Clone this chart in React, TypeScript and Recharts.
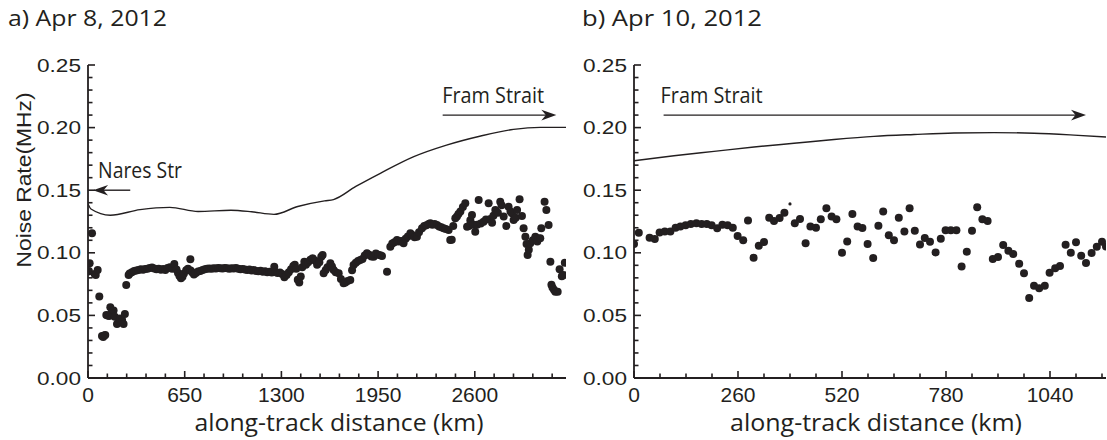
import {
  ComposedChart,
  Label,
  Line,
  ReferenceLine,
  Scatter,
  XAxis,
  YAxis,
} from "recharts";

const INK = "#231f20";
const HELV = "'Liberation Sans', Arial, Helvetica, sans-serif";
const MYRIAD = "'Open Sans', 'Noto Sans', sans-serif";

// Apr 8, 2012 — measured noise rate (km along track, MHz)
const apr8Dots: [number, number][] = [
  [2, 0.085], [6, 0.0855], [11, 0.0916], [27, 0.1156], [45, 0.083], [52, 0.0823],
  [65, 0.0863], [76, 0.065], [94, 0.0335], [102, 0.0328], [110, 0.034], [116, 0.0343],
  [123, 0.0503], [132, 0.05], [142, 0.0495], [150, 0.0565], [160, 0.0525], [172, 0.054],
  [180, 0.049], [195, 0.0431], [205, 0.0445], [215, 0.0475], [229, 0.0463], [239, 0.0431],
  [248, 0.0511], [257, 0.0743], [273, 0.0823],
  [280, 0.0835], [295, 0.0845], [310, 0.0855], [325, 0.0858], [340, 0.0862], [355, 0.0868],
  [370, 0.0865], [385, 0.087], [400, 0.0872], [415, 0.0878], [430, 0.0882], [445, 0.0875],
  [460, 0.0868], [475, 0.0872], [490, 0.0865], [505, 0.087], [520, 0.0862], [535, 0.0878],
  [550, 0.0884], [565, 0.0872], [580, 0.091], [595, 0.0866], [605, 0.0838], [615, 0.0815],
  [625, 0.0796], [635, 0.0808], [645, 0.0835], [660, 0.086], [672, 0.0872], [688, 0.0948],
  [690, 0.0858], [700, 0.0845], [712, 0.0826], [725, 0.0838], [740, 0.085], [755, 0.0855],
  [770, 0.0862], [785, 0.0868], [800, 0.0872], [815, 0.0875], [830, 0.0872], [845, 0.0876],
  [860, 0.0874], [875, 0.0878], [890, 0.0876], [905, 0.0874], [920, 0.0878], [935, 0.0876],
  [950, 0.0872], [965, 0.0876], [980, 0.0874], [995, 0.0878], [1010, 0.0872], [1025, 0.0868],
  [1040, 0.087], [1055, 0.0866], [1070, 0.0862], [1085, 0.0866], [1100, 0.0858], [1115, 0.0862],
  [1130, 0.0855], [1145, 0.0852], [1160, 0.0856], [1175, 0.0848], [1190, 0.0852], [1205, 0.0845],
  [1220, 0.0848], [1235, 0.0842], [1252, 0.0888], [1262, 0.0845], [1275, 0.0838], [1290, 0.0842],
  [1305, 0.083], [1320, 0.0805], [1335, 0.0822], [1350, 0.0845], [1365, 0.0868], [1380, 0.0895],
  [1390, 0.0905], [1400, 0.0872], [1410, 0.0785], [1420, 0.0762], [1430, 0.081], [1440, 0.0885],
  [1454, 0.0929], [1465, 0.0905], [1480, 0.0925], [1495, 0.0945], [1510, 0.0956], [1525, 0.0938],
  [1540, 0.0905], [1555, 0.0925], [1568, 0.0969], [1577, 0.0982],
  [1584, 0.0836], [1598, 0.0862], [1610, 0.0885], [1629, 0.0916], [1640, 0.089], [1651, 0.0863],
  [1665, 0.0845], [1685, 0.0836], [1700, 0.079], [1718, 0.0756], [1730, 0.0762], [1745, 0.0775],
  [1763, 0.0783], [1775, 0.086], [1785, 0.0903], [1800, 0.092], [1815, 0.0935], [1830, 0.0942],
  [1845, 0.095], [1860, 0.0978], [1875, 0.0996], [1890, 0.0985], [1905, 0.097], [1920, 0.0969],
  [1935, 0.0995], [1950, 0.0985], [1965, 0.098], [1976, 0.0974], [2010, 0.0849], [2032, 0.1049],
  [2045, 0.1075], [2060, 0.1085], [2077, 0.1102], [2090, 0.109], [2105, 0.1095], [2121, 0.1076],
  [2135, 0.1112], [2150, 0.113], [2167, 0.1156], [2180, 0.1142], [2195, 0.1125], [2211, 0.1129],
  [2225, 0.1165], [2245, 0.1196], [2260, 0.1215], [2275, 0.122], [2290, 0.123], [2301, 0.1236],
  [2315, 0.1225], [2330, 0.123], [2346, 0.1222], [2360, 0.121], [2375, 0.1205], [2390, 0.1196],
  [2405, 0.119], [2424, 0.1182], [2435, 0.1102], [2445, 0.1105], [2455, 0.1215], [2469, 0.1276],
  [2480, 0.129], [2490, 0.131], [2503, 0.1329], [2520, 0.1365], [2536, 0.1395], [2548, 0.1209],
  [2560, 0.1215], [2570, 0.126], [2581, 0.1302], [2590, 0.1225], [2603, 0.1169], [2615, 0.1225],
  [2626, 0.1422], [2640, 0.1235], [2659, 0.1249], [2675, 0.1265], [2693, 0.1395], [2705, 0.127],
  [2716, 0.1241], [2725, 0.1295], [2738, 0.1342], [2755, 0.132], [2771, 0.1408], [2780, 0.138],
  [2794, 0.1289], [2812, 0.1214], [2827, 0.1368], [2840, 0.133], [2850, 0.1315], [2861, 0.1262],
  [2875, 0.128], [2884, 0.1342], [2901, 0.1427], [2917, 0.1294], [2928, 0.1196], [2940, 0.1129],
  [2948, 0.107], [2955, 0.0982], [2963, 0.1025], [2973, 0.1076], [2990, 0.11], [3007, 0.1129],
  [3020, 0.109], [3030, 0.1115], [3040, 0.1116], [3047, 0.1196], [3069, 0.1408], [3081, 0.1342],
  [3096, 0.1222], [3108, 0.0929], [3115, 0.0745], [3122, 0.0722], [3132, 0.0705], [3141, 0.0689],
  [3157, 0.0689], [3170, 0.0868], [3185, 0.0812], [3197, 0.0823], [3205, 0.092],
];

// Apr 8, 2012 — smooth reference curve
const apr8Curve: [number, number][] = [
  [0, 0.139], [20, 0.135], [150, 0.13], [350, 0.1345], [550, 0.1363], [740, 0.133],
  [960, 0.134], [1100, 0.1328], [1250, 0.1307], [1410, 0.137], [1590, 0.1415], [1650, 0.1425],
  [1800, 0.153], [1965, 0.1635], [2190, 0.1768], [2410, 0.186], [2640, 0.1933], [2860, 0.1986],
  [3040, 0.2002], [3213, 0.2002],
];

// Apr 10, 2012 — measured noise rate
const apr10Dots: [number, number][] = [
  [0, 0.107], [12, 0.116], [39, 0.112], [52, 0.111], [64, 0.1163], [77, 0.117], [91, 0.117],
  [104, 0.12], [116, 0.121], [129, 0.122], [142, 0.123], [156, 0.1236], [169, 0.123], [182, 0.123],
  [194, 0.122], [208, 0.1196], [221, 0.1225], [234, 0.122], [247, 0.12], [259, 0.1134], [273, 0.11],
  [285, 0.1257], [299, 0.0961], [312, 0.1057], [325, 0.1086], [338, 0.128], [350, 0.1254],
  [364, 0.1278], [376, 0.132], [402, 0.1236], [415, 0.127], [429, 0.1076], [441, 0.121],
  [455, 0.12], [467, 0.1268], [481, 0.1355], [494, 0.129], [506, 0.1268], [520, 0.1], [533, 0.109],
  [546, 0.131], [559, 0.121], [571, 0.1198], [584, 0.107], [598, 0.0958], [611, 0.1217],
  [623, 0.1329], [637, 0.114], [650, 0.11], [662, 0.128], [676, 0.117], [689, 0.1355], [702, 0.1177],
  [715, 0.1067], [727, 0.1118], [740, 0.1089], [754, 0.1003], [767, 0.1113], [779, 0.118],
  [792, 0.118], [806, 0.118], [819, 0.0891], [832, 0.1009], [845, 0.1177], [858, 0.1363],
  [871, 0.1267], [884, 0.1254], [897, 0.095], [910, 0.0966], [923, 0.1062], [936, 0.1017],
  [948, 0.099], [963, 0.0913], [975, 0.0836], [988, 0.0639], [1000, 0.0737], [1013, 0.0716],
  [1027, 0.0737], [1039, 0.0841], [1053, 0.0876], [1065, 0.0895], [1079, 0.1065], [1092, 0.1],
  [1105, 0.1084], [1118, 0.0977], [1130, 0.0918], [1144, 0.0998], [1157, 0.1049], [1170, 0.1089],
  [1180, 0.105],
];
const apr10Stray: [number, number][] = [[390, 0.139]];

const apr10Curve: [number, number][] = [
  [0, 0.1735], [100, 0.1775], [200, 0.181], [300, 0.1845], [400, 0.1875], [500, 0.1905],
  [600, 0.193], [700, 0.1945], [800, 0.1957], [900, 0.196], [1000, 0.1955], [1100, 0.194],
  [1180, 0.1925],
];

const rateMajor = [0, 0.05, 0.1, 0.15, 0.2, 0.25];
const rateMinor = Array.from({ length: 26 }, (_, i) => i / 100);
const apr8KmMajor = [0, 650, 1300, 1950, 2600];
const apr8KmMinor = Array.from({ length: 25 }, (_, i) => i * 130);
const apr10KmMajor = [0, 260, 520, 780, 1040];
const apr10KmMinor = Array.from({ length: 19 }, (_, i) => i * 65);

const rows = (pts: [number, number][]) => pts.map(([km, rate]) => ({ km, rate }));

const isMajor = (majors: number[], v: number) => majors.some((m) => Math.abs(m - v) < 1e-9);

// tick marks point into the plot
const tickLine = { stroke: INK, strokeWidth: 1.6 };
const MAJOR_LEN = 7;
const MINOR_LEN = 4.5;

const bottomTick = (majors: number[]) => (p: any) => {
  const { x, y, payload } = p;
  const major = isMajor(majors, payload.value);
  return (
    <g>
      <line x1={x} x2={x} y1={y} y2={y - (major ? MAJOR_LEN : MINOR_LEN)} {...tickLine} />
      {major && (
        <text x={x} y={y + 24} textAnchor="middle" fontFamily={HELV} fontSize={21} fill={INK}>
          {payload.value}
        </text>
      )}
    </g>
  );
};

const topTick = (majors: number[]) => (p: any) => {
  const { x, y, payload } = p;
  const major = isMajor(majors, payload.value);
  return <line x1={x} x2={x} y1={y} y2={y + (major ? MAJOR_LEN : MINOR_LEN)} {...tickLine} />;
};

const leftTick = (p: any) => {
  const { x, y, payload } = p;
  const major = isMajor(rateMajor, payload.value);
  return (
    <g>
      <line x1={x} x2={x + (major ? MAJOR_LEN : MINOR_LEN)} y1={y} y2={y} {...tickLine} />
      {major && (
        <text
          x={x - 7}
          y={y}
          dy="0.36em"
          textAnchor="end"
          fontFamily={HELV}
          fontSize={18.6}
          textLength={44}
          lengthAdjust="spacingAndGlyphs"
          fill={INK}
        >
          {payload.value.toFixed(2)}
        </text>
      )}
    </g>
  );
};

const rightTick = (p: any) => {
  const { x, y, payload } = p;
  const major = isMajor(rateMajor, payload.value);
  return <line x1={x} x2={x - (major ? MAJOR_LEN : MINOR_LEN)} y1={y} y2={y} {...tickLine} />;
};

function Arrow(p: any) {
  const { x1, y1, x2, y2, text, textWidth, textX } = p;
  const dir = Math.sign(x2 - x1);
  const head = 15;
  return (
    <g>
      <line x1={x1} y1={y1} x2={x2 - dir * head * 0.6} y2={y2} stroke={INK} strokeWidth={1.4} />
      <polygon
        points={`${x2},${y2} ${x2 - dir * head},${y2 - 5.3} ${x2 - dir * head * 0.7},${y2} ${x2 - dir * head},${y2 + 5.3}`}
        fill={INK}
      />
      <text
        x={textX(x1, x2)}
        y={y1 - 12}
        fontFamily={MYRIAD}
        fontSize={21.5}
        textLength={textWidth}
        lengthAdjust="spacingAndGlyphs"
        fill={INK}
      >
        {text}
      </text>
    </g>
  );
}

const Dot = (p: any) => <circle cx={p.cx} cy={p.cy} r={4} fill={INK} />;
const TinyDot = (p: any) => <circle cx={p.cx} cy={p.cy} r={1.6} fill={INK} />;

interface ArrowSpec {
  from: [number, number];
  to: [number, number];
  text: string;
  textWidth: number;
  textX: (x1: number, x2: number) => number;
}

function Panel({
  left,
  width,
  yAxisWidth,
  rightMargin,
  xMax,
  dots,
  stray,
  curve,
  kmMajor,
  kmMinor,
  rightTicks,
  arrows,
  xTitleDx,
  xTitleWidth,
}: {
  left: number;
  width: number;
  yAxisWidth: number;
  rightMargin: number;
  xMax: number;
  dots: [number, number][];
  stray?: [number, number][];
  curve: [number, number][];
  kmMajor: number[];
  kmMinor: number[];
  rightTicks: number[];
  arrows: ArrowSpec[];
  xTitleDx: number;
  xTitleWidth: number;
}) {
  const axisLine = { stroke: INK, strokeWidth: 1.8 };
  return (
    <div style={{ position: "absolute", left, top: 0 }}>
      <ComposedChart
        width={width}
        height={440}
        margin={{ top: 65, right: rightMargin, bottom: 0, left: 0 }}
      >
        <XAxis
          dataKey="km"
          type="number"
          domain={[0, xMax]}
          allowDataOverflow
          ticks={kmMinor}
          interval={0}
          tickSize={0}
          tickMargin={0}
          tick={bottomTick(kmMajor)}
          height={62}
          stroke={INK}
          axisLine={axisLine}
        >
          <Label
            content={(lp: any) => {
              const vb = lp.viewBox;
              return (
                <text
                  x={vb.x + vb.width / 2 + xTitleDx}
                  y={vb.y + 53}
                  textAnchor="middle"
                  fontFamily={MYRIAD}
                  fontSize={23}
                  textLength={xTitleWidth}
                  lengthAdjust="spacingAndGlyphs"
                  fill={INK}
                >
                  along-track distance (km)
                </text>
              );
            }}
          />
        </XAxis>
        <XAxis
          xAxisId="top"
          orientation="top"
          dataKey="km"
          type="number"
          domain={[0, xMax]}
          allowDataOverflow
          ticks={kmMinor}
          interval={0}
          tickSize={0}
          tickMargin={0}
          tick={topTick(kmMajor)}
          height={0}
          stroke={INK}
          axisLine={axisLine}
        />
        <YAxis
          type="number"
          domain={[0, 0.25]}
          allowDataOverflow
          ticks={rateMinor}
          interval={0}
          tickSize={0}
          tickMargin={0}
          tick={leftTick}
          width={yAxisWidth}
          stroke={INK}
          axisLine={axisLine}
        />
        <YAxis
          yAxisId="right"
          orientation="right"
          type="number"
          domain={[0, 0.25]}
          allowDataOverflow
          ticks={rightTicks}
          interval={0}
          tickSize={0}
          tickMargin={0}
          tick={rightTick}
          width={0}
          stroke={INK}
          axisLine={axisLine}
        />
        <Line
          data={rows(curve)}
          dataKey="rate"
          type="monotone"
          dot={false}
          stroke={INK}
          strokeWidth={1.4}
          isAnimationActive={false}
        />
        <Scatter data={rows(dots)} dataKey="rate" shape={Dot} isAnimationActive={false} />
        {stray && (
          <Scatter data={rows(stray)} dataKey="rate" shape={TinyDot} isAnimationActive={false} />
        )}
        {arrows.map((a) => (
          <ReferenceLine
            key={a.text + a.from[0]}
            segment={[
              { x: a.from[0], y: a.from[1] },
              { x: a.to[0], y: a.to[1] },
            ]}
            ifOverflow="visible"
            shape={(sp: any) => (
              <Arrow {...sp} text={a.text} textWidth={a.textWidth} textX={a.textX} />
            )}
          />
        ))}
      </ComposedChart>
    </div>
  );
}

export default function App() {
  return (
    <div
      style={{
        position: "absolute",
        left: 0,
        top: 0,
        width: 1107,
        height: 440,
        background: "#fff",
        overflow: "hidden",
      }}
    >
      <svg width={1107} height={440} style={{ position: "absolute", left: 0, top: 0 }}>
        <text x={8} y={26} fontFamily={MYRIAD} fontSize={21} textLength={159} lengthAdjust="spacingAndGlyphs" fill={INK}>
          a) Apr 8, 2012
        </text>
        <text x={582} y={26} fontFamily={MYRIAD} fontSize={21} textLength={180} lengthAdjust="spacingAndGlyphs" fill={INK}>
          b) Apr 10, 2012
        </text>
        <text
          x={30.5}
          y={180}
          transform="rotate(-90 30.5 180)"
          textAnchor="middle"
          fontFamily={HELV}
          fontSize={21}
          textLength={175}
          lengthAdjust="spacingAndGlyphs"
          fill={INK}
        >
          Noise Rate(MHz)
        </text>
      </svg>
      <Panel
        left={0}
        width={600}
        yAxisWidth={88}
        rightMargin={34}
        xMax={3213}
        dots={apr8Dots}
        curve={apr8Curve}
        kmMajor={apr8KmMajor}
        kmMinor={apr8KmMinor}
        rightTicks={rateMinor}
        xTitleDx={12}
        xTitleWidth={289}
        arrows={[
          { from: [2384, 0.21], to: [3148, 0.21], text: "Fram Strait", textWidth: 102, textX: (x1) => x1 - 0.5 },
          { from: [284, 0.15], to: [34, 0.15], text: "Nares Str", textWidth: 84, textX: (_x1, x2) => x2 + 5 },
        ]}
      />
      <Panel
        left={560}
        width={547}
        yAxisWidth={74}
        rightMargin={1}
        xMax={1180}
        dots={apr10Dots}
        stray={apr10Stray}
        curve={apr10Curve}
        kmMajor={apr10KmMajor}
        kmMinor={apr10KmMinor}
        rightTicks={rateMajor}
        xTitleDx={6}
        xTitleWidth={292}
        arrows={[
          { from: [74, 0.21], to: [1130, 0.21], text: "Fram Strait", textWidth: 102, textX: (x1) => x1 - 3 },
        ]}
      />
    </div>
  );
}
